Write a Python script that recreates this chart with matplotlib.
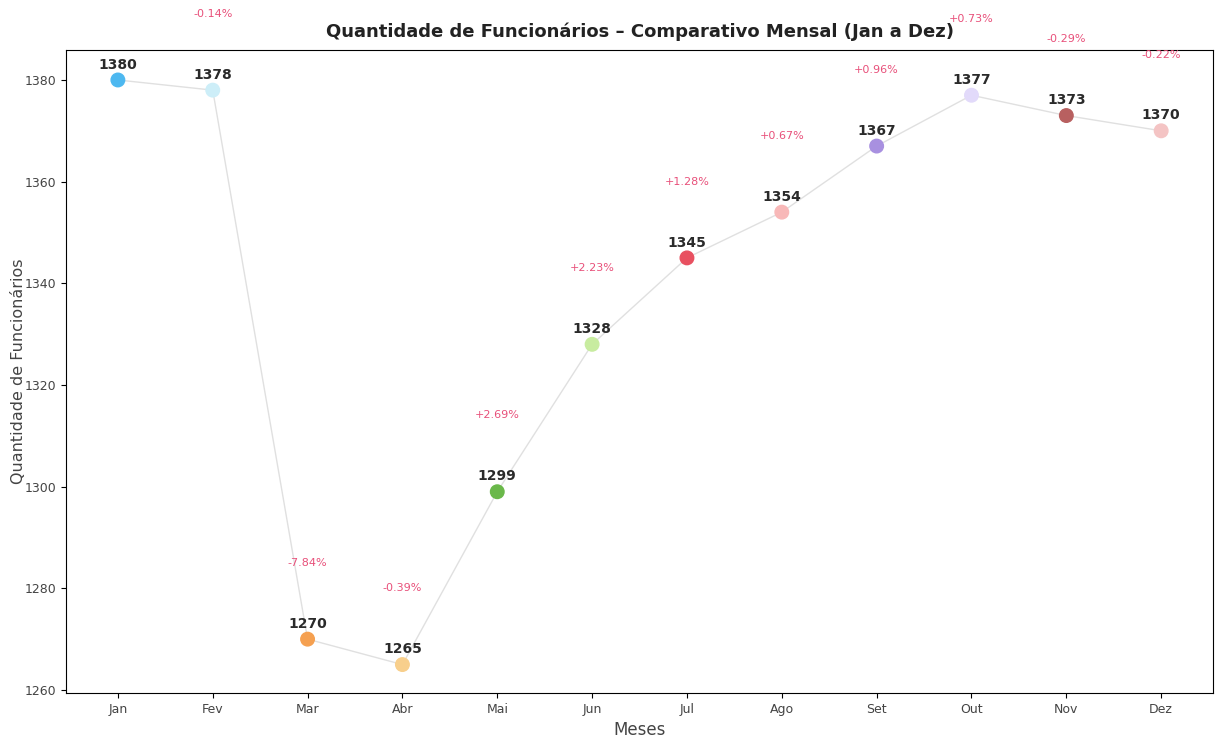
import matplotlib

matplotlib.use("Agg")
import matplotlib.pyplot as plt  # noqa: E402

# data
meses = ["Jan", "Fev", "Mar", "Abr", "Mai", "Jun", "Jul", "Ago", "Set", "Out", "Nov", "Dez"]
funcionarios = [1380, 1378, 1270, 1265, 1299, 1328, 1345, 1354, 1367, 1377, 1373, 1370]
variacao = ["", "-0.14%", "-7.84%", "-0.39%", "+2.69%", "+2.23%", "+1.28%",
            "+0.67%", "+0.96%", "+0.73%", "-0.29%", "-0.22%"]
cores = ["#4db8f0", "#cdeef8", "#f5a050", "#f8cf8c", "#6ab84a", "#c8eca0",
         "#e85060", "#f8b8b8", "#a890e0", "#e2dafa", "#b86060", "#f4c4c4"]

fig, ax = plt.subplots(figsize=(12.17, 7.46), dpi=100)

x = list(range(len(meses)))
ax.plot(x, funcionarios, color="#e0e0e0", linewidth=1, zorder=1)
ax.scatter(x, funcionarios, c=cores, s=95, zorder=2)

# value labels above each point
for xi, v in zip(x, funcionarios):
    ax.annotate(str(v), (xi, v), xytext=(0, 6), textcoords="offset points",
                ha="center", va="bottom", fontsize=10, fontweight="bold",
                color="#2a2a2a")

# month-over-month change, placed 15 units above the point
for xi, v, txt in zip(x, funcionarios, variacao):
    if txt:
        ax.text(xi, v + 15, txt, ha="center", va="center", fontsize=8,
                color="#e8507a", clip_on=False)

ax.set_xticks(x)
ax.set_xticklabels(meses, fontsize=9, color="#444444")
ax.tick_params(axis="y", labelsize=9, labelcolor="#444444")
ax.set_ylim(1259.4, 1385.9)
ax.set_xlabel("Meses", fontsize=12, color="#444444")
ax.set_ylabel("Quantidade de Funcionários", fontsize=11.5, color="#444444")
ax.yaxis.set_label_coords(-0.035, 0.5)
ax.set_title("Quantidade de Funcionários – Comparativo Mensal (Jan a Dez)",
             fontsize=13, fontweight="bold", color="#222222", pad=9)

fig.subplots_adjust(left=0.054, right=0.997, top=0.933, bottom=0.071)
fig.savefig("out.png", dpi=100)
